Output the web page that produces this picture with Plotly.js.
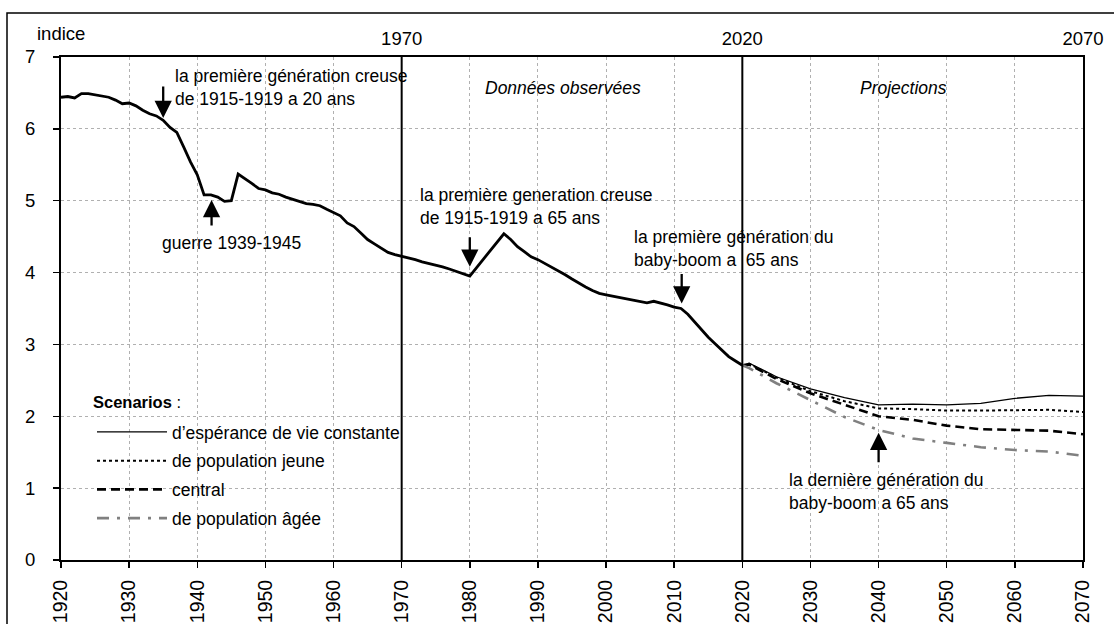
<!DOCTYPE html>
<html>
<head>
<meta charset="utf-8">
<script src="https://cdn.plot.ly/plotly-3.0.1.min.js"></script>
<style>html,body{margin:0;padding:0;background:#fff;}#chart{width:1114px;height:624px;}</style>
</head>
<body>
<div id="chart"></div>
<script>
// ---- Data ----
const obsYears = [];
for (let y = 1920; y <= 2020; y++) obsYears.push(y);
const obsValues = [
  6.44, 6.45, 6.43, 6.49, 6.49, 6.47, 6.46, 6.44, 6.40, 6.35,
  6.36, 6.32, 6.26, 6.21, 6.18, 6.12, 6.02, 5.95, 5.75, 5.54,
  5.36, 5.08, 5.08, 5.05, 4.99, 5.00, 5.37, 5.31, 5.24, 5.17,
  5.15, 5.11, 5.09, 5.05, 5.02, 4.99, 4.96, 4.95, 4.93, 4.88,
  4.83, 4.79, 4.69, 4.64, 4.55, 4.46, 4.40, 4.34, 4.28, 4.25,
  4.23, 4.21, 4.18, 4.15, 4.13, 4.11, 4.08, 4.05, 4.02, 3.99,
  3.95, 4.07, 4.19, 4.31, 4.43, 4.54, 4.46, 4.36, 4.29, 4.22,
  4.18, 4.13, 4.08, 4.02, 3.97, 3.91, 3.85, 3.80, 3.75, 3.71,
  3.69, 3.67, 3.65, 3.63, 3.62, 3.60, 3.58, 3.60, 3.58, 3.55,
  3.52, 3.50, 3.42, 3.31, 3.20, 3.10, 3.01, 2.92, 2.83, 2.77,
  2.71
];
const projYears = [2020, 2021, 2025, 2030, 2035, 2040, 2045, 2050, 2055, 2060, 2065, 2070];
const constanteValues = [2.71, 2.74, 2.55, 2.38, 2.26, 2.16, 2.17, 2.16, 2.18, 2.25, 2.29, 2.28];
const jeuneValues     = [2.71, 2.73, 2.54, 2.35, 2.21, 2.11, 2.10, 2.08, 2.08, 2.08, 2.09, 2.06];
const centralValues   = [2.71, 2.72, 2.52, 2.32, 2.16, 2.00, 1.95, 1.87, 1.82, 1.81, 1.80, 1.75];
const ageeValues      = [2.71, 2.67, 2.46, 2.23, 1.99, 1.81, 1.69, 1.63, 1.57, 1.53, 1.51, 1.45];
const scenarioNames = ["d\u2019espérance de vie constante", "de population jeune", "central", "de population âgée"];
const boundaryYears = [1970, 2020];
const topTickYears = [1970, 2020, 2070];

const FONT = "Liberation Sans, Arial, sans-serif";

const traces = [
  {x: obsYears, y: obsValues, mode: "lines", line: {color: "#000", width: 2.8}, showlegend: false, hoverinfo: "skip"},
  {x: projYears, y: constanteValues, name: scenarioNames[0], mode: "lines", line: {color: "#000", width: 1.3}, legendgroup: "a"},
  {x: projYears, y: jeuneValues, name: scenarioNames[1], mode: "lines", line: {color: "#000", width: 2, dash: "dot"}, legendgroup: "b"},
  {x: projYears, y: centralValues, name: scenarioNames[2], mode: "lines", line: {color: "#000", width: 2.6, dash: "9px,5px"}, legendgroup: "c"},
  {x: projYears, y: ageeValues, name: scenarioNames[3], mode: "lines", line: {color: "#808080", width: 2.6, dash: "12px,8px,3px,8px"}, legendgroup: "d"},
  {x: topTickYears, y: [null, null, null], xaxis: "x2", yaxis: "y", mode: "lines", showlegend: false, hoverinfo: "skip"}
];

const txt = {family: FONT, size: 17.5, color: "#000"};
function label(x, y, text, extra) {
  return Object.assign({x: x, y: y, xref: "x", yref: "y", text: text, showarrow: false,
    xanchor: "left", yanchor: "middle", align: "left", font: txt}, extra || {});
}
function arrow(x, y, ay) {
  return {x: x, y: y, xref: "x", yref: "y", text: "", showarrow: true, ax: 0, ay: ay,
    arrowhead: 2, arrowsize: 1.5, arrowwidth: 2.3, arrowcolor: "#000", standoff: 0};
}

const annotations = [
  label(1936.4, 6.575, "la première génération creuse<br>de 1915-1919 a 20 ans"),
  arrow(1935, 6.15, -33),
  label(1934.5, 4.41, "guerre 1939-1945"),
  arrow(1942.1, 5.01, 27),
  label(1972.4, 4.92, "la première generation creuse<br>de 1915-1919 a 65 ans"),
  arrow(1980, 4.08, -31),
  label(2003.8, 4.335, "la première génération du<br>baby-boom a\u00a0 65 ans"),
  arrow(2011.1, 3.57, -31),
  label(2026.6, 0.95, "la dernière génération du<br>baby-boom a 65 ans"),
  arrow(2040, 1.77, 31),
  label(1993.7, 6.57, "<i>Données observées</i>", {xanchor: "center"}),
  label(2043.6, 6.57, "<i>Projections</i>", {xanchor: "center"}),
  {x: (35 - 61) / 1022, y: (560 - 34) / 503, xref: "paper", yref: "paper", text: "indice", showarrow: false,
    xanchor: "left", yanchor: "middle", font: {family: FONT, size: 18.5, color: "#000"}},
  {x: (91 - 61) / 1022, y: (560 - 402) / 503, xref: "paper", yref: "paper", text: "<b>Scenarios</b> :",
    showarrow: false, xanchor: "left", yanchor: "middle", font: {family: FONT, size: 16.5, color: "#000"}}
];

const shapes = [];
// white background behind the legend entries (above gridlines, below traces)
shapes.push({type: "rect", xref: "paper", yref: "paper",
  x0: (77 - 61) / 1022, x1: (430 - 61) / 1022, y0: (560 - 530) / 503, y1: (560 - 423) / 503,
  line: {width: 0}, fillcolor: "#fff", layer: "between"});
boundaryYears.forEach(yr => shapes.push({
  type: "line", xref: "x", yref: "paper", x0: yr, x1: yr, y0: 0, y1: 1,
  line: {color: "#000", width: 2}, layer: "above"
}));
shapes.push({type: "rect", xref: "paper", yref: "paper",
  x0: (7 - 61) / 1022, x1: (1130 - 61) / 1022, y0: (560 - 640) / 503, y1: (560 - 13) / 503,
  line: {color: "#000", width: 1.5}, fillcolor: "rgba(0,0,0,0)", layer: "below"});

const layout = {
  width: 1114, height: 624,
  margin: {l: 61, r: 31, t: 57, b: 64},
  paper_bgcolor: "#fff", plot_bgcolor: "#fff",
  font: {family: FONT, color: "#000"},
  showlegend: true,
  legend: {x: (92 - 61) / 1022, y: (560 - 414) / 503, xanchor: "left", yanchor: "top",
    bgcolor: "rgba(0,0,0,0)", borderwidth: 0, tracegroupgap: 3, itemwidth: 70,
    font: {family: FONT, size: 17.5, color: "#000"}},
  xaxis: {range: [1920, 2070], dtick: 10, tick0: 1920, tickangle: -90,
    showgrid: true, gridcolor: "#b0b0b0", griddash: "dot", gridwidth: 1,
    showline: true, linecolor: "#000", linewidth: 2, mirror: true,
    ticks: "outside", ticklen: 6, tickcolor: "#000", tickwidth: 1.5,
    tickfont: {family: FONT, size: 19.5, color: "#000"}, ticklabelstandoff: 4,
    zeroline: false, fixedrange: true},
  xaxis2: {overlaying: "x", side: "top", range: [1920, 2070], tickvals: topTickYears,
    ticktext: topTickYears.map(String), showgrid: false, showline: false, ticks: "",
    tickfont: {family: FONT, size: 18.5, color: "#000"}, ticklabelstandoff: 7, zeroline: false},
  yaxis: {range: [0, 7], dtick: 1,
    showgrid: true, gridcolor: "#b0b0b0", griddash: "dot", gridwidth: 1,
    showline: true, linecolor: "#000", linewidth: 2, mirror: true,
    ticks: "outside", ticklen: 6, tickcolor: "#000", tickwidth: 1.5,
    tickfont: {family: FONT, size: 18.5, color: "#000"}, ticklabelstandoff: 14,
    zeroline: false, fixedrange: true},
  annotations: annotations,
  shapes: shapes
};

Plotly.newPlot("chart", traces, layout, {displayModeBar: false, staticPlot: true});
</script>
</body>
</html>
